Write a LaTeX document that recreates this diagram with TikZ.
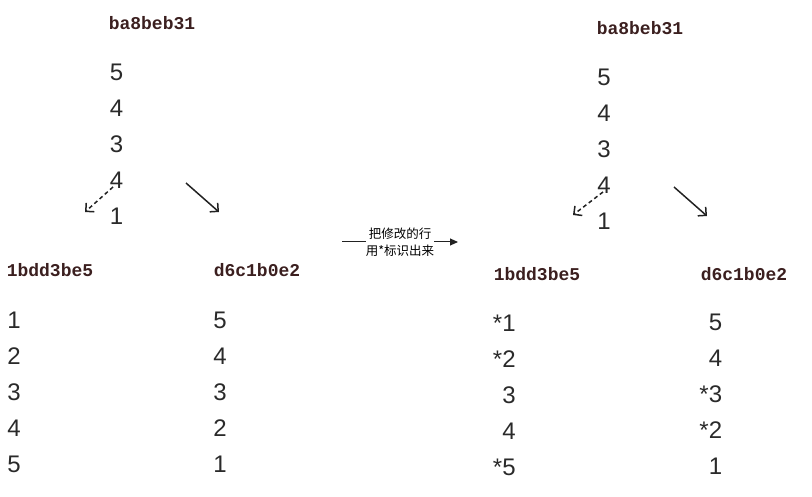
\documentclass[tikz,border=0pt]{standalone}
\usepackage{fontspec}
\usepackage{xcolor}
\usetikzlibrary {arrows.meta,positioning}
\newfontfamily\NumberFont{Liberation Sans}
\newfontfamily\HashFont{Liberation Mono}
\newfontfamily\cjk{Noto Sans CJK SC}
\definecolor{NumberColor}{HTML}{2A2A2A}
\definecolor{HashColor}{HTML}{3B1F1F}
\definecolor{ArrowColor}{HTML}{222222}
\newcommand{\Marked}{\llap{*}}
\tikzstyle{CommitHash} =[text=HashColor,font=\HashFont\bfseries\fontsize{18}{18}\selectfont,inner sep=0pt]
\tikzstyle{LineNumber} =[text=NumberColor,font=\NumberFont\fontsize{24}{24}\selectfont,inner sep=0pt]
\tikzstyle{BranchArrow} =[draw=ArrowColor,line width=1.5pt,-{Straight Barb[length=6pt,width=12pt]}]
\tikzstyle{CopyArrow} =[dash pattern=on 4pt off 3pt]
\tikzstyle{StepLabel} =[font=\cjk\fontsize{12.5}{17}\selectfont,align=center,inner sep=0pt]

\begin{document}
\begin{tikzpicture}[x=1pt,y=-1pt,node distance=36pt,on grid]
    \useasboundingbox (0,0) rectangle (812,497);

    % before
    \node[CommitHash](Parent-Before) at (152,23){ba8beb31};
    \node[LineNumber](Parent-Before-1) at (116.5,72){5};
    \node[LineNumber,below= of Parent-Before-1](Parent-Before-2){4};
    \node[LineNumber,below= of Parent-Before-2](Parent-Before-3){3};
    \node[LineNumber,below= of Parent-Before-3](Parent-Before-4){4};
    \node[LineNumber,below= of Parent-Before-4](Parent-Before-5){1};

    \node[CommitHash](ChildA-Before) at (50,270){1bdd3be5};
    \node[LineNumber](ChildA-Before-1) at (14,320){1};
    \node[LineNumber,below= of ChildA-Before-1](ChildA-Before-2){2};
    \node[LineNumber,below= of ChildA-Before-2](ChildA-Before-3){3};
    \node[LineNumber,below= of ChildA-Before-3](ChildA-Before-4){4};
    \node[LineNumber,below= of ChildA-Before-4](ChildA-Before-5){5};

    \node[CommitHash](ChildB-Before) at (257,270){d6c1b0e2};
    \node[LineNumber](ChildB-Before-1) at (220,320){5};
    \node[LineNumber,below= of ChildB-Before-1](ChildB-Before-2){4};
    \node[LineNumber,below= of ChildB-Before-2](ChildB-Before-3){3};
    \node[LineNumber,below= of ChildB-Before-3](ChildB-Before-4){2};
    \node[LineNumber,below= of ChildB-Before-4](ChildB-Before-5){1};

    \coordinate (CopyA-Before-Start) at (113,187);
    \coordinate (CopyA-Before-End) at (85,212);
    \coordinate (CopyB-Before-Start) at (186,183);
    \coordinate (CopyB-Before-End) at (219,212);
    \draw[BranchArrow,CopyArrow] (CopyA-Before-Start) -- (CopyA-Before-End);
    \draw[BranchArrow] (CopyB-Before-Start) -- (CopyB-Before-End);

    % step
    \coordinate (Step-Start) at (342,242);
    \node[StepLabel](Step-Label) at (400,242){把修改的行\\用*标识出来};
    \coordinate (Step-End) at (458,242);
    \draw[draw=ArrowColor,line width=1pt] (Step-Start) -- (Step-Label);
    \draw[draw=ArrowColor,line width=1pt,-{Triangle[length=8pt,width=7pt]}] (Step-Label) -- (Step-End);

    % after
    \node[CommitHash](Parent-After) at (640,28){ba8beb31};
    \node[LineNumber](Parent-After-1) at (604,77){5};
    \node[LineNumber,below= of Parent-After-1](Parent-After-2){4};
    \node[LineNumber,below= of Parent-After-2](Parent-After-3){3};
    \node[LineNumber,below= of Parent-After-3](Parent-After-4){4};
    \node[LineNumber,below= of Parent-After-4](Parent-After-5){1};

    \node[CommitHash](ChildA-After) at (537,274){1bdd3be5};
    \node[LineNumber](ChildA-After-1) at (509,323){\Marked1};
    \node[LineNumber,below= of ChildA-After-1](ChildA-After-2){\Marked2};
    \node[LineNumber,below= of ChildA-After-2](ChildA-After-3){3};
    \node[LineNumber,below= of ChildA-After-3](ChildA-After-4){4};
    \node[LineNumber,below= of ChildA-After-4](ChildA-After-5){\Marked5};

    \node[CommitHash](ChildB-After) at (744,274){d6c1b0e2};
    \node[LineNumber](ChildB-After-1) at (715.5,322){5};
    \node[LineNumber,below= of ChildB-After-1](ChildB-After-2){4};
    \node[LineNumber,below= of ChildB-After-2](ChildB-After-3){\Marked3};
    \node[LineNumber,below= of ChildB-After-3](ChildB-After-4){\Marked2};
    \node[LineNumber,below= of ChildB-After-4](ChildB-After-5){1};

    \coordinate (CopyA-After-Start) at (603,192);
    \coordinate (CopyA-After-End) at (573,215);
    \coordinate (CopyB-After-Start) at (674,187);
    \coordinate (CopyB-After-End) at (707,216);
    \draw[BranchArrow,CopyArrow] (CopyA-After-Start) -- (CopyA-After-End);
    \draw[BranchArrow] (CopyB-After-Start) -- (CopyB-After-End);
\end{tikzpicture}
\end{document}
